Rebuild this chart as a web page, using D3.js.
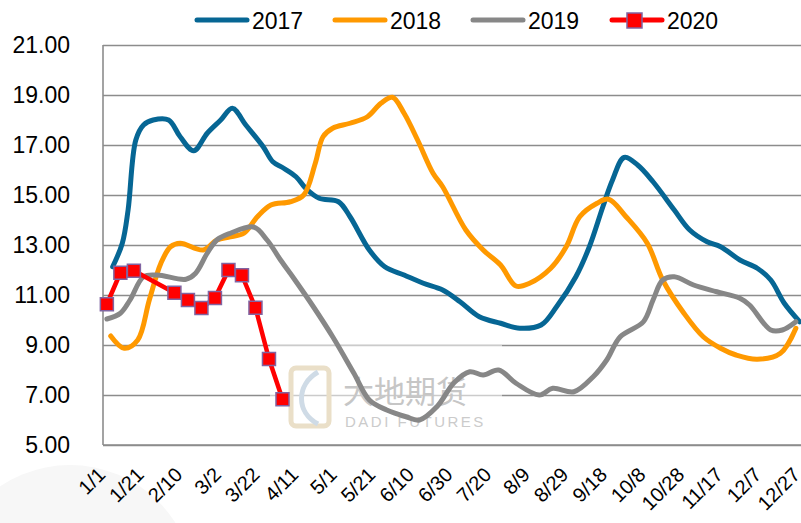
<!DOCTYPE html>
<html>
<head>
<meta charset="utf-8">
<script src="https://cdn.jsdelivr.net/npm/d3@7"></script>
<style>
body { margin: 0; background: #fff; }
svg { display: block; font-family: "Liberation Sans", Arial, sans-serif; }
</style>
</head>
<body>
<div id="chart"></div>
<script>
// x axis labels (every 20 days)
var tickDates = ["1/1","1/21","2/10","3/2","3/22","4/11","5/1","5/21","6/10","6/30",
    "7/20","8/9","8/29","9/18","10/8","10/28","11/17","12/7","12/27"]
var yTicks = [5, 7, 9, 11, 13, 15, 17, 19, 21]

// series
var dates2017 = ["1/6","1/11","1/14","1/18","1/22","1/27","2/4","2/10","2/17","2/24","3/3","3/9",
    "3/16","3/25","3/30","4/4","4/11","4/16","4/23","5/3","5/9","5/19","5/27","6/6","6/16","6/26",
    "7/5","7/15","7/26","8/5","8/16","8/24","9/3","9/10","9/17","9/22","9/28","10/5","10/13",
    "10/24","11/1","11/10","11/17","11/27","12/6","12/13","12/20","12/28"]
var values2017 = [12.13,13.07,14.4,17.2,17.8,18.0,18.0,17.33,16.77,17.47,18.0,18.47,
    17.8,16.93,16.33,16.1,15.73,15.27,14.87,14.73,14.13,12.8,12.13,11.8,11.47,11.2,
    10.73,10.13,9.87,9.67,9.8,10.53,11.73,12.93,14.53,15.6,16.5,16.2,15.53,
    14.4,13.6,13.13,12.93,12.4,12.07,11.6,10.67,9.93]

var dates2018 = ["1/5","1/12","1/19","1/25","1/31","2/5","2/10","2/22","3/1","3/8","3/15","3/22",
    "3/29","4/8","4/15","4/21","4/25","4/30","5/9","5/18","5/25","5/31","6/6","6/13","6/21",
    "6/26","7/8","7/17","7/26","8/3","8/10","8/21","8/29","9/5","9/14","9/20","9/29","10/10",
    "10/18","10/29","11/8","11/17","11/25","12/6","12/18","12/26"]
var values2018 = [9.36,8.87,9.2,10.8,12.27,12.93,13.07,12.8,13.2,13.33,13.47,14.13,
    14.6,14.73,15.0,16.27,17.33,17.67,17.87,18.13,18.67,18.91,18.27,17.2,15.87,
    15.33,13.6,12.8,12.2,11.36,11.47,12.07,12.93,14.13,14.67,14.83,14.13,13.07,
    11.6,10.27,9.33,8.87,8.6,8.43,8.67,9.67]

var dates2019 = ["1/3","1/10","1/15","1/22","1/29","2/13","2/18","2/24","3/1","3/8","3/20","3/27",
    "4/3","4/10","4/20","4/30","5/11","5/19","5/28","6/7","6/14","6/23","7/2","7/10","7/17",
    "7/25","8/3","8/15","8/22","9/2","9/12","9/19","9/26","10/8","10/13","10/18","10/24",
    "11/3","11/15","11/27","12/2","12/13","12/19","12/26"]
var values2019 = [10.04,10.27,10.8,11.73,11.8,11.63,11.87,12.67,13.2,13.47,13.72,13.2,
    12.4,11.65,10.53,9.33,7.87,6.8,6.4,6.13,6.0,6.53,7.5,7.93,7.8,
    8.0,7.47,7.0,7.27,7.13,7.73,8.4,9.33,9.93,10.8,11.6,11.73,
    11.4,11.13,10.87,10.6,9.6,9.6,9.93]

var dates2020 = ["1/3","1/10","1/17","2/7","2/14","2/21","2/28","3/7","3/14","3/21","3/28","4/4"]
var values2020 = [10.63,11.89,11.97,11.09,10.8,10.48,10.88,12.0,11.79,10.49,8.44,6.83]

var keys = ["2017", "2018", "2019", "2020"]
var color = d3.scaleOrdinal()
    .domain(keys)
    .range(["#066694", "#FF9900", "#878787", "#FF0000"])

var width = 801, height = 523
var svg = d3.select("#chart")
    .append("svg")
    .attr("width", width)
    .attr("height", height)

var parse = d3.timeParse("%m/%d")
var fmt = d3.timeFormat("%-m/%-d")

var x = d3.scaleTime()
    .domain([parse("1/1"), parse("12/31")])
    .range([103, 103 + 1.93 * 364])
var y = d3.scaleLinear()
    .domain([5, 21])
    .range([445, 45])

// faint background blob bottom left
svg.append("circle")
    .attr("cx", 70).attr("cy", 590).attr("r", 125)
    .style("fill", "#f7f7f7")

// gridlines + y labels
var yAxis = svg.append("g")
    .attr("transform", "translate(103,0)")
    .call(d3.axisLeft(y).tickValues(yTicks).tickSize(-(width - 103)).tickPadding(33)
        .tickFormat(d3.format(".2f")))
yAxis.select(".domain").remove()
yAxis.selectAll(".tick line").attr("stroke", "#8c8c8c").attr("stroke-width", 1.6)
yAxis.selectAll(".tick text")
    .style("font-size", "23px")
    .style("fill", "#000")

// left axis line
svg.append("line")
    .attr("x1", 103).attr("x2", 103)
    .attr("y1", y(21)).attr("y2", y(5))
    .attr("stroke", "#8c8c8c").attr("stroke-width", 1.6)

// x axis labels
var xAxis = svg.append("g")
    .attr("transform", "translate(0,445)")
    .call(d3.axisBottom(x).tickValues(tickDates.map(parse)).tickSize(0).tickFormat(fmt))
xAxis.select(".domain").remove()
xAxis.selectAll(".tick text")
    .attr("y", null).attr("dy", null)
    .attr("text-anchor", "end")
    .attr("transform", "translate(3,31) rotate(-45)")
    .style("font-size", "20px")
    .style("fill", "#000")

// watermark
var wm = svg.append("g")
wm.append("rect")
    .attr("x", 270).attr("y", 345).attr("width", 232).attr("height", 99)
    .style("fill", "#fff").style("opacity", 0.55)
wm.append("rect")
    .attr("x", 291).attr("y", 368).attr("width", 38).attr("height", 58).attr("rx", 5)
    .style("fill", "none").style("stroke", "#eadfc8").style("stroke-width", 5)
wm.append("path")
    .attr("d", "M318,372 C296,385 296,412 318,424")
    .style("fill", "none").style("stroke", "#cfdbe6").style("stroke-width", 5)
wm.append("text")
    .attr("x", 343).attr("y", 403)
    .style("font-family", "'Noto Sans CJK SC', sans-serif")
    .style("font-size", "31px")
    .style("fill", "#c6c6c6")
    .text("大地期货")
wm.append("text")
    .attr("x", 345).attr("y", 427)
    .style("font-size", "15px")
    .style("letter-spacing", "2.5px")
    .style("fill", "#cbcbcb")
    .text("DADI FUTURES")

// bottom axis line
svg.append("line")
    .attr("x1", 103).attr("x2", width)
    .attr("y1", 445).attr("y2", 445)
    .attr("stroke", "#8c8c8c").attr("stroke-width", 1.6)

// series
function pts(ds, vs) {
    return ds.map(function(d, i) { return {date: parse(d), value: vs[i]} })
}
var series = {
    "2017": pts(dates2017, values2017),
    "2018": pts(dates2018, values2018),
    "2019": pts(dates2019, values2019),
    "2020": pts(dates2020, values2020)
}

var smooth = d3.line()
    .curve(d3.curveCatmullRom.alpha(0.5))
    .x(function(d) { return x(d.date) })
    .y(function(d) { return y(d.value) })
var straight = d3.line()
    .x(function(d) { return x(d.date) })
    .y(function(d) { return y(d.value) })

;["2017", "2018", "2019"].forEach(function(k) {
    svg.append("path")
        .datum(series[k])
        .attr("fill", "none")
        .attr("stroke", color(k))
        .attr("stroke-width", 5)
        .attr("stroke-linejoin", "round")
        .attr("stroke-linecap", "round")
        .attr("d", smooth)
})

svg.append("path")
    .datum(series["2020"])
    .attr("fill", "none")
    .attr("stroke", color("2020"))
    .attr("stroke-width", 4.5)
    .attr("stroke-linejoin", "round")
    .attr("d", straight)

svg.selectAll("rect.m20")
    .data(series["2020"])
    .enter()
    .append("rect")
        .attr("class", "m20")
        .attr("x", function(d) { return x(d.date) - 6.5 })
        .attr("y", function(d) { return y(d.value) - 6.5 })
        .attr("width", 13).attr("height", 13)
        .style("fill", "#FF0000")
        .style("stroke", "#8064A2")
        .style("stroke-width", 1.5)

// legend
var legX = [195, 333, 471, 610]
var leg = svg.selectAll("g.leg")
    .data(keys)
    .enter()
    .append("g")
        .attr("class", "leg")
        .attr("transform", function(d, i) { return "translate(" + legX[i] + ",20)" })
leg.append("line")
    .attr("x1", 2).attr("x2", 52)
    .attr("y1", 0).attr("y2", 0)
    .attr("stroke", function(d) { return color(d) })
    .attr("stroke-width", 5)
    .attr("stroke-linecap", "round")
leg.filter(function(d) { return d == "2020" })
    .append("rect")
        .attr("x", 17).attr("y", -7).attr("width", 15).attr("height", 15)
        .style("fill", "#FF0000")
        .style("stroke", "#8064A2")
        .style("stroke-width", 1.5)
leg.append("text")
    .attr("x", 57).attr("y", 8.5)
    .style("font-size", "23px")
    .style("fill", "#000")
    .text(function(d) { return d })
</script>
</body>
</html>
